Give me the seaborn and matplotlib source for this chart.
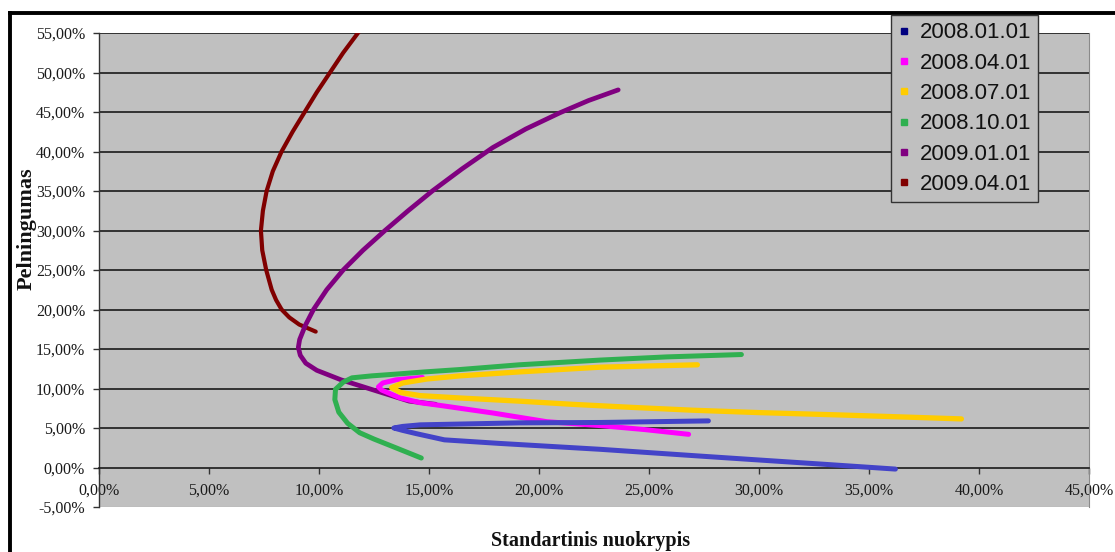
import matplotlib
matplotlib.use("Agg")
import matplotlib.pyplot as plt
from matplotlib.lines import Line2D
from matplotlib.ticker import FuncFormatter
import seaborn as sns
import pandas as pd

# Efficient frontiers: standard deviation (%) vs. return (%) for each date
dates = ["2008.01.01", "2008.04.01", "2008.07.01", "2008.10.01", "2009.01.01", "2009.04.01"]

sd_2008_01 = [27.7, 22.8, 19.1, 16.4, 14.6, 13.8, 13.4, 13.8, 14.4, 15.7, 18.2, 22.8, 27.3, 30.0, 33.0, 36.2]
ret_2008_01 = [5.9, 5.7, 5.65, 5.5, 5.4, 5.2, 5.0, 4.7, 4.3, 3.5, 3.05, 2.3, 1.45, 0.95, 0.4, -0.2]

sd_2008_04 = [14.7, 13.5, 12.9, 12.7, 12.85, 13.7, 14.6, 15.65, 17.9, 20.35, 22.8, 24.8, 26.8]
ret_2008_04 = [11.4, 11.1, 10.7, 10.2, 9.8, 8.8, 8.2, 7.8, 6.9, 5.8, 5.3, 4.8, 4.2]

sd_2008_07 = [27.2, 22.8, 19.1, 16.4, 14.9, 13.8, 13.3, 13.7, 14.6, 16.4, 19.1, 21.5, 24.3, 27.0, 30.0, 33.7, 36.5, 39.2]
ret_2008_07 = [13.0, 12.7, 12.1, 11.6, 11.2, 10.7, 10.1, 9.5, 9.1, 8.8, 8.4, 8.0, 7.6, 7.25, 6.95, 6.65, 6.4, 6.15]

sd_2008_10 = [14.65, 13.4, 12.5, 11.85, 11.3, 10.9, 10.72, 10.75, 11.1, 11.5, 12.4, 13.4, 14.8, 16.4, 19.1, 22.8, 25.8, 29.2]
ret_2008_10 = [1.2, 2.6, 3.6, 4.4, 5.6, 7.0, 8.6, 9.9, 10.8, 11.35, 11.6, 11.8, 12.1, 12.4, 13.0, 13.6, 14.0, 14.3]

sd_2009_01 = [15.3, 14.1, 12.6, 11.0, 9.9, 9.4, 9.15, 9.06, 9.12, 9.38, 9.75, 10.35, 11.1, 12.0, 13.0, 14.05, 15.15, 16.5, 17.9, 19.4, 20.95, 22.25, 23.6]
ret_2009_01 = [8.0, 8.4, 9.7, 11.1, 12.3, 13.2, 14.2, 15.2, 16.2, 18.0, 20.0, 22.5, 25.0, 27.5, 30.0, 32.5, 35.0, 37.8, 40.5, 42.85, 44.9, 46.45, 47.8]

sd_2009_04 = [9.85, 9.1, 8.65, 8.3, 8.05, 7.85, 7.6, 7.42, 7.36, 7.45, 7.62, 7.9, 8.3, 8.8, 9.35, 9.9, 10.5, 11.1, 11.77, 12.45]
ret_2009_04 = [17.2, 18.1, 19.0, 20.0, 21.2, 22.5, 25.0, 27.5, 30.0, 32.5, 35.0, 37.5, 40.0, 42.5, 45.0, 47.5, 50.0, 52.5, 55.0, 57.5]

series_sd = [sd_2008_01, sd_2008_04, sd_2008_07, sd_2008_10, sd_2009_01, sd_2009_04]
series_ret = [ret_2008_01, ret_2008_04, ret_2008_07, ret_2008_10, ret_2009_01, ret_2009_04]

line_colors = ["#4343C8", "#FF00FF", "#FFCC00", "#2FB050", "#800080", "#800000"]
key_colors = ["#000080", "#FF00FF", "#FFCC00", "#2FB050", "#800080", "#800000"]
line_widths = [3.6, 3.6, 3.8, 3.6, 3.4, 3.0]
layer = [2.6, 2.3, 2.4, 2.5, 2.2, 2.1]

x_ticks = [0, 5, 10, 15, 20, 25, 30, 35, 40, 45]
y_ticks = [-5, 0, 5, 10, 15, 20, 25, 30, 35, 40, 45, 50, 55]

frames = []
for d, sd, r in zip(dates, series_sd, series_ret):
    frames.append(pd.DataFrame({"date": d, "sd": sd, "ret": r, "order": range(len(sd))}))
df = pd.concat(frames, ignore_index=True)

sns.set_theme(style="white")
plt.rcParams["font.family"] = ["Liberation Serif", "DejaVu Serif"]

W, H = 1115, 552
fig = plt.figure(figsize=(W / 100, H / 100), dpi=100)
ax = fig.add_axes([99 / W, (H - 507) / H, 990 / W, 474 / H])
ax.set_facecolor("#C0C0C0")

for i, d in enumerate(dates):
    sub = df[df["date"] == d]
    sns.lineplot(data=sub, x="sd", y="ret", sort=False, estimator=None,
                 color=line_colors[i], linewidth=line_widths[i], ax=ax,
                 zorder=layer[i], solid_capstyle="round", solid_joinstyle="round")

ax.set_xlim(0, 45)
ax.set_ylim(-5, 55)
fmt = FuncFormatter(lambda v, _: f"{v:.2f}".replace(".", ",") + "%")
ax.xaxis.set_major_formatter(fmt)
ax.yaxis.set_major_formatter(fmt)
ax.set_xticks(x_ticks)
ax.set_yticks(y_ticks)

# horizontal gridlines
for yv in y_ticks:
    if yv > 0:
        ax.axhline(yv, color="#1a1a1a", lw=1.2, zorder=1)
ax.axhline(-5, color="#9a9a9a", lw=0.8, zorder=1)

ax.spines["top"].set_visible(False)
ax.spines["right"].set_color("#8a8a8a")
ax.spines["right"].set_linewidth(0.8)
ax.spines["left"].set_color("#333333")
ax.spines["left"].set_linewidth(1.0)
ax.spines["bottom"].set_position(("data", 0))
ax.spines["bottom"].set_color("#1a1a1a")
ax.spines["bottom"].set_linewidth(1.2)

ax.tick_params(axis="y", direction="out", length=4, width=1, color="#333333",
               labelsize=11.5, labelcolor="#1a1a1a", pad=6, left=True)
ax.tick_params(axis="x", direction="out", length=4, width=1, color="#333333",
               labelsize=11.5, labelcolor="#1a1a1a", pad=7, bottom=True)

ax.set_xlabel("Standartinis nuokrypis", fontsize=14.5, fontweight="bold", color="#111111")
ax.set_ylabel("Pelningumas", fontsize=16, fontweight="bold", color="#111111")
ax.xaxis.set_label_coords(0.497, -0.051)
ax.yaxis.set_label_coords(-0.063, 0.587)

handles = [Line2D([], [], marker="s", linestyle="none", markersize=5,
                  markerfacecolor=c, markeredgecolor=c) for c in key_colors]
leg = fig.legend(handles, dates, loc="upper left",
                 bbox_to_anchor=(891 / W, 1 - 15 / H), bbox_transform=fig.transFigure,
                 prop={"family": ["Liberation Sans", "DejaVu Sans"], "size": 16},
                 frameon=True, fancybox=False, framealpha=1, facecolor="#C0C0C0",
                 edgecolor="#333333", borderpad=0.33, labelspacing=0.42,
                 handlelength=0.5, handletextpad=0.45, borderaxespad=0)
leg.get_frame().set_linewidth(1.0)
for t in leg.get_texts():
    t.set_color("#111111")

# chart border
fig.add_artist(Line2D([10 / W, 10 / W], [0, 1 - 13 / H], transform=fig.transFigure,
                      color="black", lw=2.8, solid_capstyle="projecting"))
fig.add_artist(Line2D([10 / W, 1.0], [1 - 13 / H, 1 - 13 / H], transform=fig.transFigure,
                      color="black", lw=2.8, solid_capstyle="projecting"))

fig.savefig("out.png", dpi=100)
